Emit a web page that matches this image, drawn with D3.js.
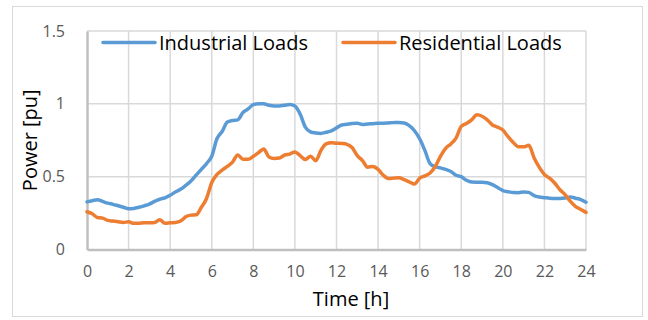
<!DOCTYPE html>
<html>
<head>
<meta charset="utf-8">
<script src="https://cdn.jsdelivr.net/npm/d3@7/dist/d3.min.js"></script>
<style>
  html, body { margin: 0; padding: 0; background: #fff; }
  svg { display: block; font-family: "Open Sans", "Liberation Sans", sans-serif; }
</style>
</head>
<body>
<svg id="chart" width="648" height="320"></svg>
<script>
// Time of day in hours (quarter-hour steps)
const hours = [
  0, 0.25, 0.5, 0.75, 1, 1.25, 1.5, 1.75, 2, 2.25, 2.5, 2.75,
  3, 3.25, 3.5, 3.75, 4, 4.25, 4.5, 4.75, 5, 5.25, 5.5, 5.75,
  6, 6.25, 6.5, 6.75, 7, 7.25, 7.5, 7.75, 8, 8.25, 8.5, 8.75,
  9, 9.25, 9.5, 9.75, 10, 10.25, 10.5, 10.75, 11, 11.25, 11.5, 11.75,
  12, 12.25, 12.5, 12.75, 13, 13.25, 13.5, 13.75, 14, 14.25, 14.5, 14.75,
  15, 15.25, 15.5, 15.75, 16, 16.25, 16.5, 16.75, 17, 17.25, 17.5, 17.75,
  18, 18.25, 18.5, 18.75, 19, 19.25, 19.5, 19.75, 20, 20.25, 20.5, 20.75,
  21, 21.25, 21.5, 21.75, 22, 22.25, 22.5, 22.75, 23, 23.25, 23.5, 23.75, 24
];

// Industrial load profile [pu]
const industrial = [
  0.327, 0.335, 0.342, 0.330, 0.318, 0.310, 0.300, 0.290, 0.280, 0.282, 0.290, 0.300,
  0.312, 0.330, 0.345, 0.355, 0.372, 0.395, 0.413, 0.440, 0.470, 0.510, 0.550, 0.590,
  0.640, 0.760, 0.810, 0.875, 0.885, 0.890, 0.940, 0.965, 0.995, 1.000, 1.000, 0.990,
  0.985, 0.985, 0.990, 0.995, 0.985, 0.930, 0.840, 0.808, 0.800, 0.797, 0.805, 0.815,
  0.835, 0.855, 0.860, 0.865, 0.866, 0.858, 0.862, 0.864, 0.866, 0.867, 0.869, 0.871,
  0.872, 0.868, 0.850, 0.815, 0.760, 0.680, 0.590, 0.568, 0.560, 0.550, 0.535, 0.510,
  0.500, 0.475, 0.463, 0.462, 0.462, 0.458, 0.445, 0.425, 0.405, 0.397, 0.391, 0.390,
  0.395, 0.392, 0.370, 0.360, 0.356, 0.352, 0.350, 0.350, 0.353, 0.360, 0.352, 0.343, 0.325
];

// Residential load profile [pu]
const residential = [
  0.259, 0.245, 0.220, 0.215, 0.200, 0.195, 0.190, 0.186, 0.190, 0.180, 0.181, 0.183,
  0.184, 0.186, 0.205, 0.180, 0.183, 0.185, 0.195, 0.225, 0.236, 0.238, 0.290, 0.350,
  0.460, 0.515, 0.545, 0.570, 0.600, 0.648, 0.620, 0.620, 0.640, 0.665, 0.690, 0.635,
  0.625, 0.628, 0.648, 0.655, 0.670, 0.645, 0.618, 0.640, 0.610, 0.680, 0.725, 0.733,
  0.730, 0.728, 0.722, 0.700, 0.645, 0.610, 0.565, 0.570, 0.550, 0.510, 0.488, 0.490,
  0.493, 0.480, 0.465, 0.450, 0.490, 0.505, 0.525, 0.570, 0.640, 0.695, 0.725, 0.765,
  0.845, 0.865, 0.890, 0.925, 0.915, 0.890, 0.855, 0.840, 0.820, 0.775, 0.735, 0.705,
  0.705, 0.715, 0.630, 0.565, 0.515, 0.490, 0.455, 0.410, 0.375, 0.330, 0.295, 0.275, 0.255
];

const xTicks = [0, 2, 4, 6, 8, 10, 12, 14, 16, 18, 20, 22, 24];
const yTicks = [0, 0.5, 1, 1.5];
const seriesNames = ["Industrial Loads", "Residential Loads"];
const seriesColors = ["#5b9bd5", "#ed7d31"];

const svg = d3.select("#chart");

// Outer chart frame
svg.append("rect")
  .attr("x", 12.5).attr("y", 6.5)
  .attr("width", 630).attr("height", 310)
  .attr("fill", "#fff").attr("stroke", "#d9d9d9").attr("stroke-width", 1);

const x = d3.scaleLinear().domain([0, 24]).range([87, 586]);
const y = d3.scaleLinear().domain([0, 1.5]).range([249.5, 31]);

// Gridlines
const grid = svg.append("g");
grid.selectAll(".vg").data(xTicks.filter(d => d > 0)).join("line")
  .attr("x1", d => x(d)).attr("x2", d => x(d))
  .attr("y1", y(1.5)).attr("y2", y(0))
  .attr("stroke", "#d9d9d9").attr("stroke-width", 1.5);
grid.selectAll(".hg").data(yTicks.filter(d => d > 0)).join("line")
  .attr("x1", x(0)).attr("x2", x(24))
  .attr("y1", d => y(d)).attr("y2", d => y(d))
  .attr("stroke", "#d9d9d9").attr("stroke-width", 1.5);

// Axes
const xAxis = svg.append("g")
  .attr("transform", `translate(0,${y(0)})`)
  .call(d3.axisBottom(x).tickValues(xTicks).tickSize(0).tickPadding(16));
const yAxis = svg.append("g")
  .attr("transform", `translate(${x(0)},0)`)
  .call(d3.axisLeft(y).tickValues(yTicks).tickSize(0).tickPadding(22)
    .tickFormat(d => d3.format("")(d)));
[xAxis, yAxis].forEach(a => {
  a.select(".domain").attr("stroke", "#bfbfbf").attr("stroke-width", 2.5);
  a.selectAll("text").attr("fill", "#595959").attr("font-size", 16)
    .attr("font-family", "'Open Sans', sans-serif");
});

// Series lines
const line = d3.line().curve(d3.curveMonotoneX)
  .x((d, i) => x(hours[i])).y(d => y(d));
[industrial, residential].forEach((vals, k) => {
  svg.append("path")
    .datum(vals)
    .attr("fill", "none")
    .attr("stroke", seriesColors[k])
    .attr("stroke-width", 3.5)
    .attr("stroke-linejoin", "round")
    .attr("stroke-linecap", "round")
    .attr("d", line);
});

// Legend
const legendPos = [{ x1: 103, x2: 155, tx: 159 }, { x1: 343, x2: 395, tx: 399 }];
seriesNames.forEach((name, k) => {
  const p = legendPos[k];
  svg.append("line")
    .attr("x1", p.x1).attr("x2", p.x2).attr("y1", 42.5).attr("y2", 42.5)
    .attr("stroke", seriesColors[k]).attr("stroke-width", 3.5)
    .attr("stroke-linecap", "round");
  svg.append("text")
    .attr("x", p.tx).attr("y", 50)
    .attr("font-size", 20).attr("fill", "#000")
    .text(name);
});

// Axis titles
svg.append("text")
  .attr("x", 351).attr("y", 306)
  .attr("text-anchor", "middle").attr("font-size", 20).attr("fill", "#000")
  .text("Time [h]");
svg.append("text")
  .attr("transform", `translate(37,${(y(0) + y(1.5)) / 2}) rotate(-90)`)
  .attr("text-anchor", "middle").attr("font-size", 20).attr("fill", "#000")
  .text("Power [pu]");
</script>
</body>
</html>
